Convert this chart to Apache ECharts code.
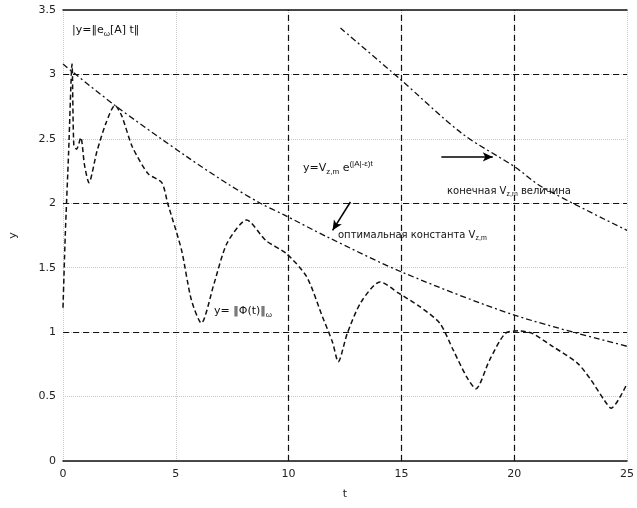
<!DOCTYPE html>
<html>
<head>
<meta charset="utf-8">
<script src="https://cdn.jsdelivr.net/npm/echarts@6/dist/echarts.min.js"></script>
<style>
  html, body { margin: 0; padding: 0; background: #fff; }
  #chart { width: 637px; height: 508px; }
</style>
</head>
<body>
<div id="chart"></div>
<script>
// оси
var xTicks = [0, 5, 10, 15, 20, 25];
var yTicks = [0, 0.5, 1, 1.5, 2, 2.5, 3, 3.5];
var xMajor = [10, 15, 20];   // чёрные штриховые линии сетки
var yMajor = [1, 2, 3];

// y = ||Φ(t)||_ω  (колеблющаяся кривая)
var phiT = [0, 0.1, 0.25, 0.4, 0.48, 0.6, 0.79, 0.95, 1.15, 1.5, 1.9, 2.3, 2.6, 3.07, 3.77, 4.38, 4.64, 5.25, 5.69, 6.13, 6.7, 7.27, 8.14, 9.0, 9.9, 10.8, 11.5, 11.95, 12.2, 12.6, 13.2, 14.05, 14.9, 15.8, 16.7, 17.3, 17.9, 18.3, 18.9, 19.6, 20.2, 20.8, 21.7, 22.8, 23.4, 24.0, 24.3, 25];
var phiY = [1.19, 1.75, 2.4, 3.08, 2.45, 2.42, 2.51, 2.3, 2.16, 2.4, 2.62, 2.76, 2.68, 2.44, 2.23, 2.16, 2.0, 1.64, 1.25, 1.07, 1.38, 1.69, 1.87, 1.71, 1.61, 1.43, 1.12, 0.92, 0.77, 0.99, 1.23, 1.39, 1.30, 1.2, 1.07, 0.86, 0.65, 0.56, 0.78, 0.99, 1.01, 0.99, 0.89, 0.76, 0.63, 0.47, 0.41, 0.6];

// огибающая с оптимальной константой
var envT = [0, 2.3, 5.5, 7.4, 8.75, 9.8, 11.7, 15.1, 20.05, 25];
var envY = [3.08, 2.76, 2.36, 2.14, 2.0, 1.91, 1.74, 1.46, 1.13, 0.89];

// огибающая с конечной константой
var upT = [12.3, 14.9, 17.7, 20.05, 21.2, 25];
var upY = [3.36, 2.97, 2.54, 2.28, 2.13, 1.79];

function pairs(xs, ys) {
    return xs.map(function (x, i) { return [x, ys[i]]; });
}

var myChart = echarts.init(document.getElementById('chart'));
var fnt = 'DejaVu Sans';

var option = {
    animation: false,
    backgroundColor: '#fff',
    grid: { left: 62, right: 4, top: 10, bottom: 47 },
    xAxis: [
        {
            type: 'value', min: 0, max: 25, interval: 5,
            name: 't', nameLocation: 'middle', nameGap: 28,
            nameTextStyle: { color: '#222', fontFamily: fnt, fontSize: 11 },
            axisLine: { lineStyle: { color: '#111', width: 1.5 } },
            axisTick: { show: false },
            axisLabel: { color: '#222', fontFamily: fnt, fontSize: 11, margin: 8 },
            splitLine: { show: true, lineStyle: { color: '#c8c8c8', type: 'dotted' } }
        },
        {
            type: 'value', min: 0, max: 25, position: 'top',
            axisLine: { show: true, lineStyle: { color: '#111', width: 1.5 } },
            axisTick: { show: false }, axisLabel: { show: false }, splitLine: { show: false }
        }
    ],
    yAxis: {
        type: 'value', min: 0, max: 3.5, interval: 0.5,
        name: 'y', nameLocation: 'middle', nameGap: 44, nameRotate: 90,
        nameTextStyle: { color: '#222', fontFamily: fnt, fontSize: 11 },
        axisLine: { show: false },
        axisTick: { show: false },
        axisLabel: { color: '#222', fontFamily: fnt, fontSize: 11, margin: 7 },
        splitLine: { show: true, lineStyle: { color: '#c8c8c8', type: 'dotted' } }
    },
    series: [
        {
            type: 'line', name: 'grid',
            data: [],
            markLine: {
                silent: true, symbol: 'none', label: { show: false },
                lineStyle: { color: '#111', type: [6, 4], width: 1.2 },
                data: xMajor.map(function (v) { return { xAxis: v }; })
                    .concat(yMajor.map(function (v) { return { yAxis: v }; }))
            }
        },
        {
            type: 'line', name: 'phi',
            data: pairs(phiT, phiY),
            showSymbol: false, smooth: 0.25,
            lineStyle: { color: '#111', width: 1.5, type: [5, 3] }
        },
        {
            type: 'line', name: 'env',
            data: pairs(envT, envY),
            showSymbol: false, smooth: 0.3,
            lineStyle: { color: '#111', width: 1.3, type: [6, 3, 2, 3] }
        },
        {
            type: 'line', name: 'up',
            data: pairs(upT, upY),
            showSymbol: false, smooth: 0.3,
            lineStyle: { color: '#111', width: 1.3, type: [6, 3, 2, 3] }
        },
        {
            type: 'line', name: 'arrows',
            data: [],
            markLine: {
                silent: true, symbol: ['none', 'arrow'], symbolSize: [7, 10],
                label: { show: false },
                lineStyle: { color: '#000', type: 'solid', width: 1.5 },
                data: [
                    [{ coord: [16.77, 2.36] }, { coord: [19.05, 2.36] }],
                    [{ coord: [12.74, 2.01] }, { coord: [11.95, 1.79] }]
                ]
            }
        }
    ],
    graphic: [
        {
            type: 'text', left: 72, top: 25,
            style: {
                text: '|y=‖e{s|ω}[A] t‖', fill: '#111', font: '11px ' + fnt,
                rich: { s: { fontSize: 8, verticalAlign: 'bottom', padding: [6, 0, 0, 0] } }
            }
        },
        {
            type: 'text', left: 303, top: 160,
            style: {
                text: 'y=V{s|z,m} e{p|(|A|-ε)t}', fill: '#111', font: '11px ' + fnt,
                rich: {
                    s: { fontSize: 8, padding: [8, 0, 0, 0] },
                    p: { fontSize: 8, padding: [0, 0, 8, 0] }
                }
            }
        },
        {
            type: 'text', left: 447, top: 186,
            style: {
                text: 'конечная V{s|z,m} величина', fill: '#111', font: '10px ' + fnt,
                rich: { s: { fontSize: 7, padding: [7, 0, 0, 0] } }
            }
        },
        {
            type: 'text', left: 338, top: 230,
            style: {
                text: 'оптимальная константа V{s|z,m}', fill: '#111', font: '10px ' + fnt,
                rich: { s: { fontSize: 7, padding: [7, 0, 0, 0] } }
            }
        },
        {
            type: 'text', left: 214, top: 306,
            style: {
                text: 'y= ‖Φ(t)‖{s|ω}', fill: '#111', font: '11px ' + fnt,
                rich: { s: { fontSize: 8, padding: [7, 0, 0, 0] } }
            }
        }
    ]
};

myChart.setOption(option);
</script>
</body>
</html>
